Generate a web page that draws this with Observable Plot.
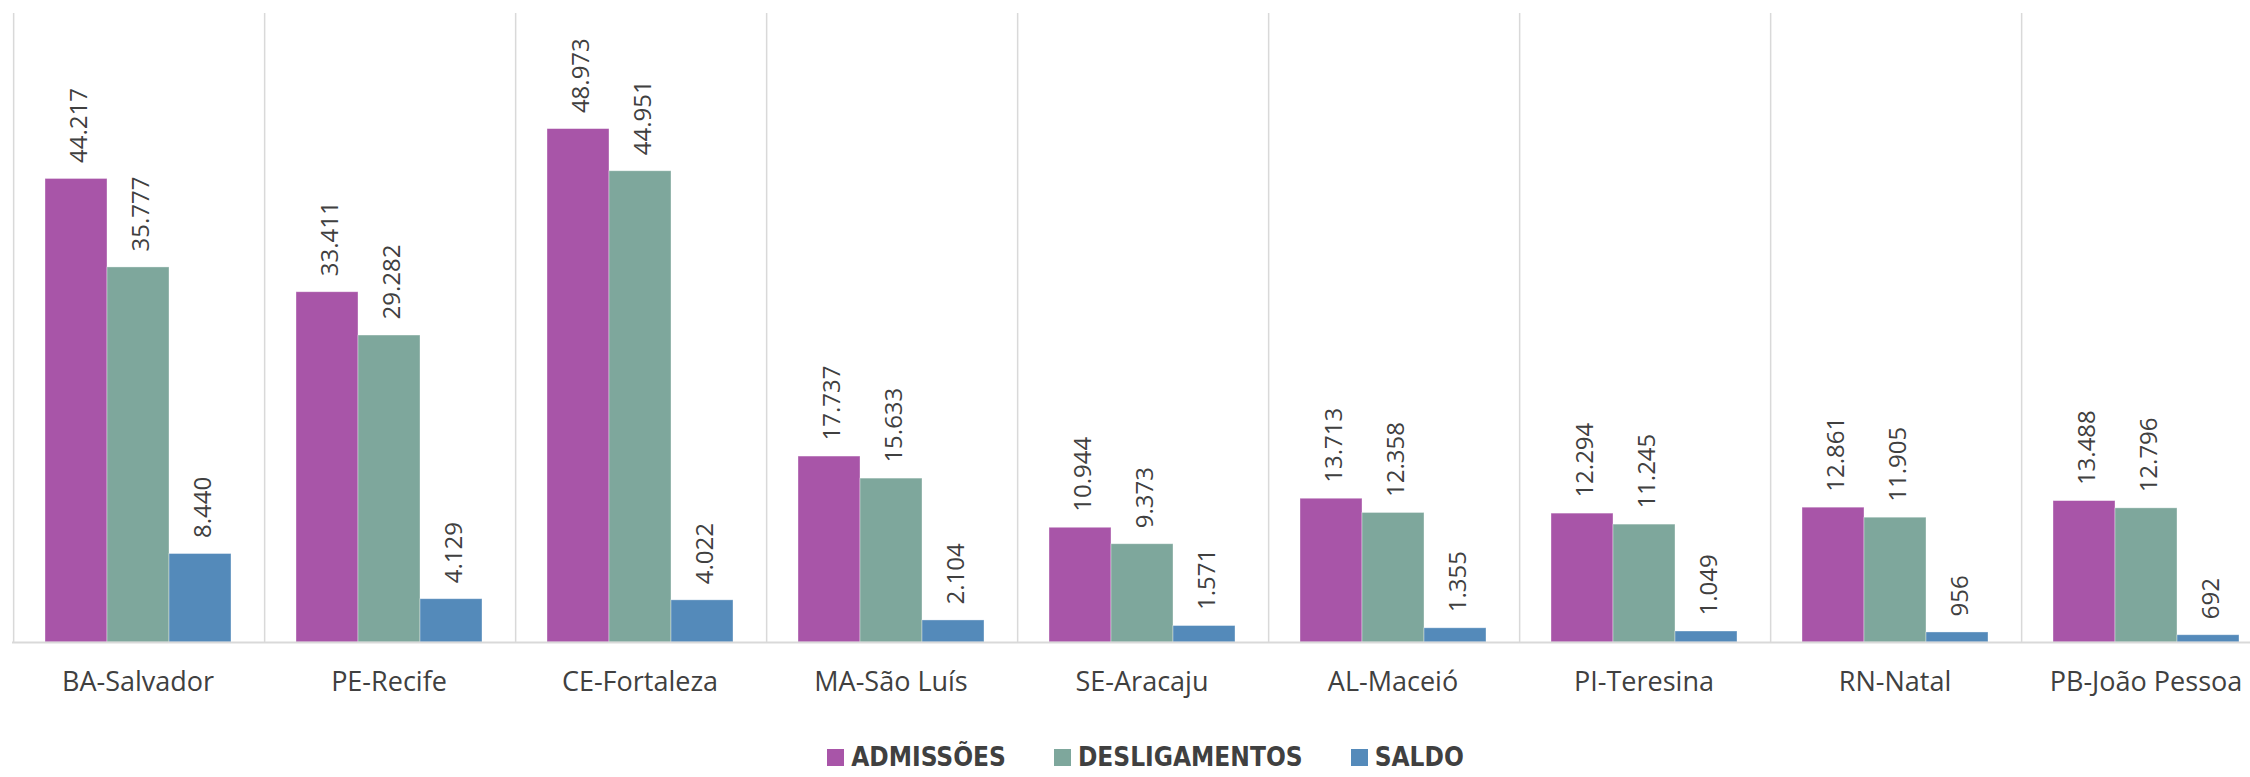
<!DOCTYPE html>
<html>
<head>
<meta charset="utf-8">
<script src="https://cdn.jsdelivr.net/npm/d3@7"></script>
<script src="https://cdn.jsdelivr.net/npm/@observablehq/plot@0.6"></script>
<style>
  body { margin: 0; background: #fff; }
  #wrap { width: 2250px; height: 777px; overflow: hidden; position: relative; background: #fff; }
  #legend { position: absolute; left: 0; top: 742px; width: 2273px; display: flex; justify-content: center; align-items: center; gap: 48px; padding-left: 18px; box-sizing: border-box;
    font-family: "DejaVu Sans Condensed", "DejaVu Sans", sans-serif; font-stretch: condensed; font-weight: bold; font-size: 26px; color: #404040; }
  .item { display: flex; align-items: center; gap: 7px; }
  .sw { width: 17px; height: 17px; display: inline-block; }
</style>
</head>
<body>
<div id="wrap"></div>
<script>
const cities = ["BA-Salvador", "PE-Recife", "CE-Fortaleza", "MA-São Luís", "SE-Aracaju", "AL-Maceió", "PI-Teresina", "RN-Natal", "PB-João Pessoa"];
const series = ["ADMISSÕES", "DESLIGAMENTOS", "SALDO"];
const admissoes = [44217, 33411, 48973, 17737, 10944, 13713, 12294, 12861, 13488];
const desligamentos = [35777, 29282, 44951, 15633, 9373, 12358, 11245, 11905, 12796];
const saldo = [8440, 4129, 4022, 2104, 1571, 1355, 1049, 956, 692];
const colors = ["#A855A8", "#7EA79C", "#548ABA"];

const valuesBySeries = [admissoes, desligamentos, saldo];
const table = cities.flatMap((city, i) => series.map((s, j) => ({city, series: s, value: valuesBySeries[j][i]})));

const fmt = d3.formatLocale({decimal: ",", thousands: ".", grouping: [3], currency: ["", ""]}).format(",d");

const step = 251.4;
const bandOffset = -step / 4; // from series[0] band center back to the facet's left edge

const plot = Plot.plot({
  width: Math.round(10 + 9 * step),
  height: 700,
  marginLeft: 10,
  marginRight: 0,
  marginTop: 13,
  marginBottom: 58,
  style: {fontFamily: "'Open Sans', sans-serif", fontSize: "27px", color: "#404040", background: "white"},
  facet: {data: table, x: "city"},
  fx: {domain: cities, padding: 0, label: null, axis: "bottom", tickSize: 0, tickPadding: 29},
  x: {domain: series, paddingInner: 0, paddingOuter: 0.5, axis: null},
  y: {domain: [0, 60000], axis: null},
  color: {domain: series, range: colors},
  marks: [
    Plot.ruleX(table, {filter: d => d.series === series[0], x: "series", dx: bandOffset, stroke: "#d9d9d9", strokeWidth: 1.5}),
    Plot.barY(table, {x: "series", y: "value", fill: "series", stroke: "#ffffff", strokeOpacity: 0.45, strokeWidth: 0.8}),
    Plot.ruleY([0], {stroke: "#d9d9d9", strokeWidth: 2}),
    Plot.text(table, {x: "series", y: "value", text: d => fmt(d.value), rotate: -90, textAnchor: "start", dy: -16, dx: 3, fontSize: 24, fill: "#404040"})
  ]
});
plot.style.maxWidth = "none";
plot.style.overflow = "hidden";
document.getElementById("wrap").appendChild(plot);

const legend = document.createElement("div");
legend.id = "legend";
series.forEach((s, i) => {
  const item = document.createElement("div");
  item.className = "item";
  const sw = document.createElement("span");
  sw.className = "sw";
  sw.style.background = colors[i];
  const label = document.createElement("span");
  label.textContent = s;
  item.appendChild(sw);
  item.appendChild(label);
  legend.appendChild(item);
});
document.getElementById("wrap").appendChild(legend);
</script>
</body>
</html>
